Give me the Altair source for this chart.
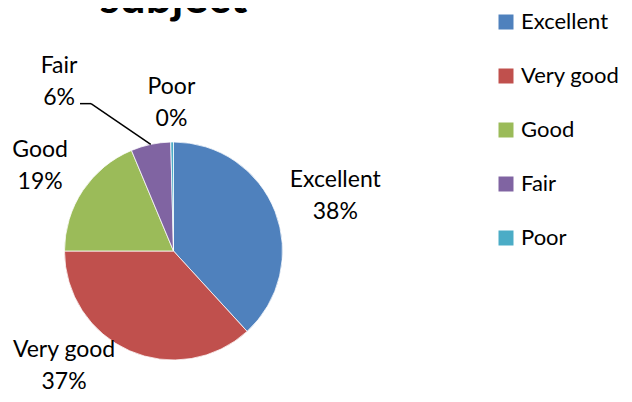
import altair as alt
import pandas as pd

categories = ["Excellent", "Very good", "Good", "Fair", "Poor"]
values = [38.2, 36.8, 18.7, 5.9, 0.4]
colors = ["#4F81BD", "#C0504D", "#9BBB59", "#8064A2", "#4BACC6"]
title_text = ["subject"]

df = pd.DataFrame({"category": categories, "value": values,
                   "idx": list(range(len(categories)))})

CX, CY, R, LR = 165.5, 243, 109, 165
FONT = "Lato"
FS = 23
LH = 32
SHIFT = -LH / 2

label_offsets = {"Excellent": (8, 5), "Very good": (-43, -36), "Good": (4, 6),
                 "Fair": (-80, -8), "Poor": (0, 17)}

base = (
    alt.Chart(df)
    .transform_joinaggregate(total="sum(value)")
    .transform_window(cum="sum(value)", sort=[alt.SortField("idx")], frame=[None, 0])
    .transform_calculate(
        mid="2*PI*(datum.cum - datum.value/2)/datum.total",
        label="datum.category + '\\n' + format(datum.value/datum.total, '.0%')",
    )
    .transform_calculate(
        lx=f"{CX} + {LR}*sin(datum.mid)",
        ly=f"{CY} - {LR}*cos(datum.mid)",
        ex=f"{CX} + {R}*sin(datum.mid)",
        ey=f"{CY} - {R}*cos(datum.mid)",
    )
)

pie = alt.Chart(df).mark_arc(radius=R, stroke="white", strokeWidth=0.75).encode(
    theta=alt.Theta("value:Q", stack=True),
    order=alt.Order("idx:Q"),
    color=alt.Color(
        "category:N",
        scale=alt.Scale(domain=categories, range=colors),
        sort=categories,
        legend=alt.Legend(
            title=None, orient="none", legendX=487, legendY=3,
            symbolType="square", symbolSize=225, symbolStrokeWidth=0,
            labelFont=FONT, labelFontSize=22, labelColor="black",
            rowPadding=32, labelOffset=4, padding=0,
        ),
    ),
    x=alt.value(CX),
    y=alt.value(CY),
)

labels = []
for c in categories:
    dx, dy = label_offsets[c]
    labels.append(
        base.transform_filter(alt.datum.category == c)
        .mark_text(font=FONT, fontSize=FS, lineBreak="\n", lineHeight=LH,
                   align="center", baseline="middle", dx=dx, dy=dy + SHIFT,
                   color="black")
        .encode(
            x=alt.X("lx:Q", scale=None, axis=None),
            y=alt.Y("ly:Q", scale=None, axis=None),
            text="label:N",
        )
    )

fdx, fdy = label_offsets["Fair"]
fair = base.transform_filter(alt.datum.category == "Fair").transform_calculate(
    bx=f"datum.lx + {fdx} + 32",
    by=f"datum.ly + {fdy} + 22",
).transform_calculate(
    bx2="datum.bx - 11",
)
leader1 = fair.mark_rule(color="black", strokeWidth=1.5).encode(
    x=alt.X("ex:Q", scale=None, axis=None), y=alt.Y("ey:Q", scale=None, axis=None),
    x2="bx:Q", y2="by:Q",
)
leader2 = fair.mark_rule(color="black", strokeWidth=1.5).encode(
    x=alt.X("bx:Q", scale=None, axis=None), y=alt.Y("by:Q", scale=None, axis=None),
    x2="bx2:Q", y2="by:Q",
)

title = alt.Chart(pd.DataFrame({"t": title_text})).mark_text(
    font=FONT, fontSize=46, fontWeight="bold", baseline="alphabetic",
    align="center", color="black",
).encode(x=alt.value(CX), y=alt.value(5), text="t:N")

chart = alt.layer(pie, *labels, leader1, leader2, title).properties(
    width=616, height=386,
    autosize=alt.AutoSizeParams(type="none"),
    padding=0,
).configure_view(strokeWidth=0)

chart.save("out.html", embed_options={"renderer": "svg", "actions": False})
